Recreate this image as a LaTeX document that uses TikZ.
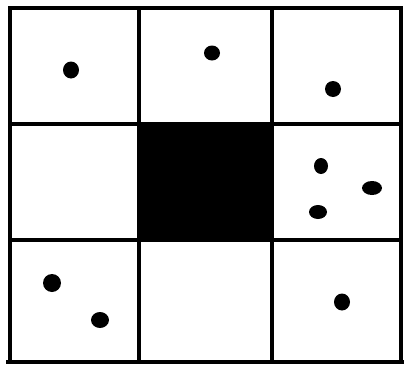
\documentclass[tikz,border=0pt]{standalone}
\begin{document}
\begin{tikzpicture}[x=1pt,y=-1pt,
  gridline/.style={line width=4.5pt,line cap=rect},
  dot/.style={fill=black}]
\useasboundingbox (0,0) rectangle (405,370);
\fill[white] (0,0) rectangle (405,370);
% filled centre cell
\fill[black] (139,124) rectangle (272,240);
% grid
\draw[gridline] (10,8) -- (401,8);
\draw[gridline] (10,124) -- (401,124);
\draw[gridline] (10,240) -- (401,240);
\draw[gridline] (8,362) -- (402,362);
\draw[gridline] (10,8) -- (10,362);
\draw[gridline] (139,8) -- (139,362);
\draw[gridline] (272,8) -- (272,362);
\draw[gridline] (401,8) -- (401,362);
% dots
\fill[dot] (71,70) ellipse [x radius=8, y radius=8.5];
\fill[dot] (212,53) ellipse [x radius=8, y radius=7.5];
\fill[dot] (333,89) ellipse [x radius=8, y radius=8];
\fill[dot] (321,166) ellipse [x radius=7, y radius=8];
\fill[dot] (372,188) ellipse [x radius=10, y radius=7];
\fill[dot] (318,212) ellipse [x radius=9, y radius=7];
\fill[dot] (52,283) ellipse [x radius=9, y radius=9];
\fill[dot] (100,320) ellipse [x radius=9, y radius=8];
\fill[dot] (342,302) ellipse [x radius=8, y radius=8.5];
\end{tikzpicture}
\end{document}
